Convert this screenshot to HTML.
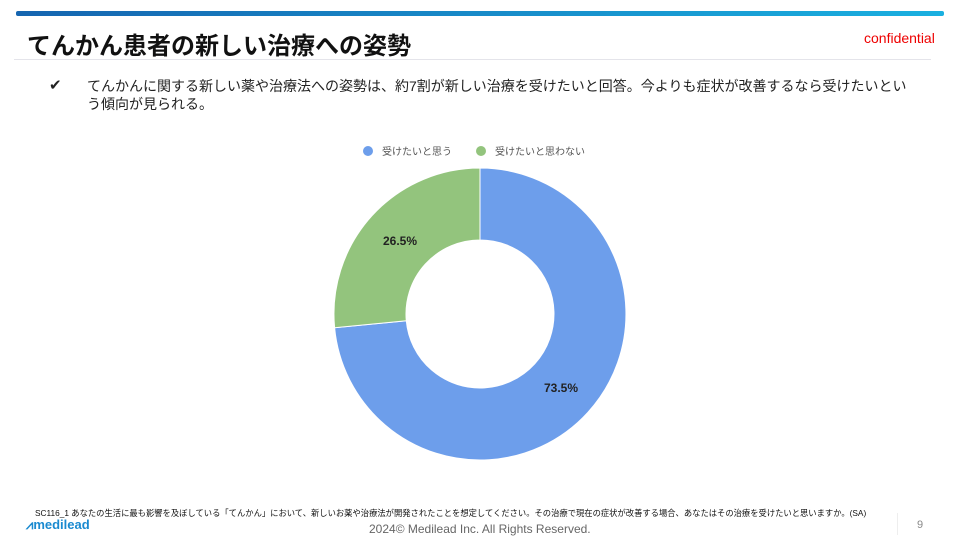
<!DOCTYPE html>
<html><head><meta charset="utf-8"><style>
body{margin:0;width:960px;height:540px;background:#fff;position:relative;overflow:hidden;font-family:"Liberation Sans","Noto Sans CJK JP",sans-serif;}
.a{position:absolute;white-space:nowrap;}
</style></head><body>
<div class="a" style="left:16px;top:11px;width:928px;height:5px;background:linear-gradient(90deg,#1565b0,#1ab0e0);border-radius:2px"></div>
<div class="a" style="left:27px;top:26px;font-size:24px;font-weight:bold;color:#111">てんかん患者の新しい治療への姿勢</div>
<div class="a" style="left:864px;top:30px;font-size:14px;color:#e00">confidential</div>
<div class="a" style="left:14px;top:59px;width:917px;height:1px;background:#e4e4ea"></div>
<div class="a" style="left:49px;top:76px;font-size:15px;color:#222">✔</div>
<div class="a" style="left:87px;top:77px;font-size:14px;line-height:18px;color:#222">てんかんに関する新しい薬や治療法への姿勢は、約7割が新しい治療を受けたいと回答。今よりも症状が改善するなら受けたいとい<br>う傾向が見られる。</div>
<svg class="a" style="left:0;top:0" width="960" height="540">
<circle cx="368" cy="151" r="5" fill="#6d9eeb"/>
<text x="382" y="155" font-size="10" fill="#555">受けたいと思う</text>
<circle cx="481" cy="151" r="5" fill="#93c47d"/>
<text x="495" y="155" font-size="10" fill="#555">受けたいと思わない</text>
<path d="M480 168 A146 146 0 1 1 334.6 327.7 L406.3 320.8 A74 74 0 1 0 480 240 Z" fill="#6d9eeb" stroke="#fff" stroke-width="1"/>
<path d="M334.6 327.7 A146 146 0 0 1 480 168 L480 240 A74 74 0 0 0 406.3 320.8 Z" fill="#93c47d" stroke="#fff" stroke-width="1"/>
<text x="400" y="245" font-size="12" font-weight="bold" fill="#222" text-anchor="middle">26.5%</text>
<text x="561" y="392" font-size="12" font-weight="bold" fill="#222" text-anchor="middle">73.5%</text>
</svg>
<div class="a" style="left:35px;top:507px;font-size:8.3px;color:#111">SC116_1  あなたの生活に最も影響を及ぼしている「てんかん」において、新しいお薬や治療法が開発されたことを想定してください。その治療で現在の症状が改善する場合、あなたはその治療を受けたいと思いますか。(SA)</div>
<div class="a" style="left:26px;top:517px;font-size:13px;font-weight:bold;color:#1a8ad0">⩘medilead</div>
<div class="a" style="left:369px;top:522px;font-size:12px;color:#666">2024© Medilead Inc. All Rights Reserved.</div>
<div class="a" style="left:897px;top:513px;width:1px;height:22px;background:#eee"></div>
<div class="a" style="left:917px;top:519px;font-size:11px;color:#888">9</div>
</body></html>
